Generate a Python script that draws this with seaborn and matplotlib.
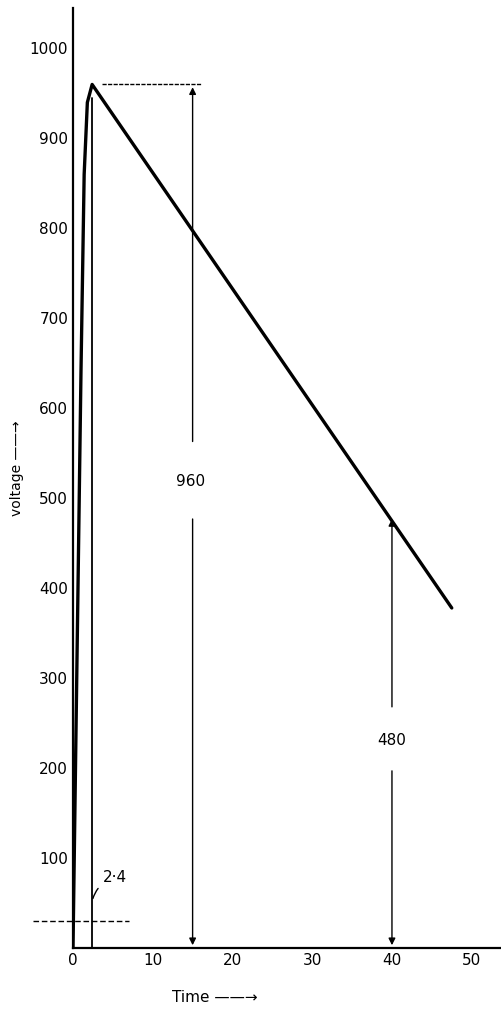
import matplotlib
matplotlib.use("Agg")
import matplotlib.pyplot as plt
import seaborn as sns
import pandas as pd

# ---- data ----
time_us = [0.0, 0.5, 1.0, 1.4, 1.8, 2.4, 47.5]
voltage_kv = [0, 320, 640, 860, 940, 960, 378]

x_ticks = [0, 10, 20, 30, 40, 50]
y_ticks = [100, 200, 300, 400, 500, 600, 700, 800, 900, 1000]

peak_value = 960
half_value = 480
front_time = 2.4
peak_marker_time = 15
half_time = 40
ref_level = 30

sns.set_theme(style="white")
plt.rcParams['font.family'] = ['DejaVu Sans']

fig = plt.figure(figsize=(5.02, 10.23), dpi=100)
ax = fig.add_axes([73/502, 75/1023, 429/502, 940/1023])

df = pd.DataFrame({"time": time_us, "voltage": voltage_kv})
sns.lineplot(data=df, x="time", y="voltage", ax=ax, color="black",
             linewidth=2.4, sort=False)

ax.set_xlim(0, 53.8)
ax.set_ylim(0, 1045)
ax.set_xticks(x_ticks)
ax.set_yticks(y_ticks)
ax.tick_params(direction="in", length=5, width=1, labelsize=11, colors="black")
for s in ["top", "right"]:
    ax.spines[s].set_visible(False)
for s in ["left", "bottom"]:
    ax.spines[s].set_color("black")
    ax.spines[s].set_linewidth(1.6)

# front time marker line
ax.plot([front_time, front_time], [0, 945], color="black", lw=1.3)

# horizontal dotted line at peak
ax.plot([3.6, peak_marker_time + 1], [peak_value, peak_value],
        color="black", lw=1.0, ls=(0, (3, 1)))

# 960 dimension arrows
arrow = dict(arrowstyle="-|>", color="black", lw=1.0, mutation_scale=10)
ax.annotate("", xy=(peak_marker_time, peak_value), xytext=(peak_marker_time, 560),
            arrowprops=arrow)
ax.annotate("", xy=(peak_marker_time, 0), xytext=(peak_marker_time, 480),
            arrowprops=arrow)
ax.text(peak_marker_time - 0.3, 519, "960", ha="center", va="center",
        fontsize=11, color="black")

# 480 dimension arrows
ax.annotate("", xy=(half_time, half_value), xytext=(half_time, 265),
            arrowprops=arrow)
ax.annotate("", xy=(half_time, 0), xytext=(half_time, 200),
            arrowprops=arrow)
ax.text(half_time, 231, "480", ha="center", va="center", fontsize=11,
        color="black")

# low reference dashed line and 2.4 label
ax.plot([-5, 7], [ref_level, ref_level], color="black", lw=1.0,
        ls=(0, (4, 2)), clip_on=False)
ax.annotate("2·4", xy=(front_time, 52), xytext=(5.3, 78),
            fontsize=11, ha="center", va="center", color="black",
            arrowprops=dict(arrowstyle="-", color="black", lw=1.0,
                            connectionstyle="arc3,rad=0.3"))

ax.set_xlabel("Time ——→", fontsize=11, color="black")
ax.xaxis.set_label_coords(0.33, -0.045)
ax.set_ylabel("voltage ——→", fontsize=10, color="black")
ax.yaxis.set_label_coords(-0.115, 0.51)

fig.savefig("out.png", dpi=100, facecolor="white")
